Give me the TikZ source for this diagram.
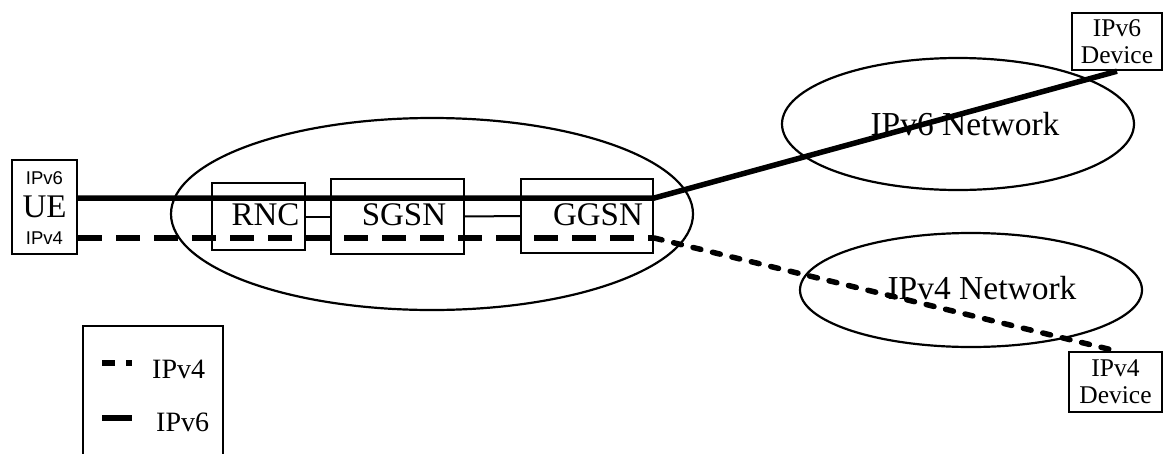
\documentclass[tikz,border=0pt]{standalone}
\usepackage{fontspec}
\setmainfont{Liberation Serif}
\newfontfamily\uesans{Liberation Sans}
\usetikzlibrary{shapes.geometric, calc}

\begin{document}
\begin{tikzpicture}[x=1pt,y=-1pt,
  unit/.style={draw, line width=2.4pt, inner sep=0pt},
  unitlbl/.style={inner sep=0pt, font=\fontsize{33}{36}\selectfont},
  uelbl/.style={inner sep=0pt, font=\uesans\fontsize{18.5}{20}\selectfont},
  netell/.style={draw, ellipse, line width=2.2pt, inner sep=0pt},
  netlbl/.style={inner sep=0pt, font=\fontsize{33.5}{36}\selectfont},
  device/.style={draw, line width=2.4pt, inner sep=0pt, align=center, font=\fontsize{25.5}{27}\selectfont},
  lgtext/.style={inner sep=0pt, font=\fontsize{28}{30}\selectfont},
  vsix/.style={line width=5.5pt},
  vfour/.style={line width=5.5pt, dash pattern=on 24pt off 14pt},
  vfourfar/.style={line width=5.5pt, line cap=round, dash pattern=on 8pt off 12pt},
  link/.style={line width=2pt}]
\useasboundingbox (0,0) rectangle (1164,453);
\clip (0,0) rectangle (1164,453);
% networks
\node (core) [netell, minimum width=522pt, minimum height=192pt] at (432,214) {};
\node (v6net) [netell, minimum width=352pt, minimum height=132pt,
  label={[netlbl, xshift=7pt]center:IPv6 Network}] at (958,124) {};
\node (v4net) [netell, minimum width=342pt, minimum height=114pt,
  label={[netlbl, xshift=11pt, yshift=2pt]center:IPv4 Network}] at (971,290) {};
% terminal and core units
\node (ue) [unit, unitlbl, minimum width=65pt, minimum height=94pt,
  label={[uelbl, yshift=29pt]center:IPv6},
  label={[uelbl, yshift=-31pt]center:IPv4}] at (44.5,207) {UE};
\node (rnc) [unit, minimum width=93pt, minimum height=67pt,
  label={[unitlbl, xshift=7pt, yshift=2pt]center:RNC}] at (258.5,216.5) {};
\node (sgsn) [unit, minimum width=133pt, minimum height=75pt,
  label={[unitlbl, xshift=6.5pt, yshift=2pt]center:SGSN}] at (397.5,216.5) {};
\node (ggsn) [unit, minimum width=132pt, minimum height=74pt,
  label={[unitlbl, xshift=11pt, yshift=1pt]center:GGSN}] at (587,216) {};
% end devices
\node (v6dev) [device, minimum width=90pt, minimum height=57pt] at (1117,41.5) {IPv6\\Device};
\node (v4dev) [device, minimum width=93pt, minimum height=60pt] at (1115.5,382) {IPv4\\Device};
% links
\draw[link] (rnc) -- (sgsn);
\draw[link] (sgsn) -- (ggsn);
\coordinate (ggsix) at ([yshift=18pt]ggsn.east);
\coordinate (ggfour) at ([yshift=-22pt]ggsn.east);
\draw[vsix] ([yshift=9pt]ue.east) -- (ggsix) -- (v6dev.south);
\draw[vfour] ([yshift=-31pt]ue.east) -- (ggfour);
\draw[vfourfar] (ggfour) -- (v4dev.north);
% legend
\node (legend) [draw, line width=2.4pt, minimum width=140pt, minimum height=144pt] at (153,398) {};
\node (lgfour) [lgtext, anchor=west] at (152,369) {IPv4};
\node (lgsix) [lgtext, anchor=west] at (156,422) {IPv6};
\draw[line width=5.5pt, dash pattern=on 13pt off 11pt] ([xshift=-50pt,yshift=6pt]lgfour.west) -- ++(30,0);
\draw[line width=5.5pt] ([xshift=-54pt,yshift=4pt]lgsix.west) -- ++(30,0);
\end{tikzpicture}
\end{document}
